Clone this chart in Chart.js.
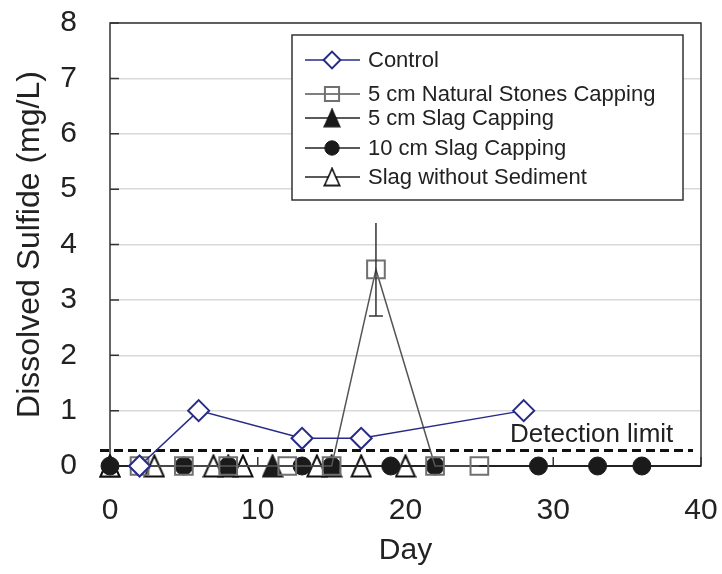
<!DOCTYPE html>
<html>
<head>
<meta charset="utf-8">
<script src="https://cdn.jsdelivr.net/npm/chart.js@4.4.1/dist/chart.umd.min.js"></script>
<style>
html, body { margin: 0; padding: 0; background: #fff; }
#wrap { width: 722px; height: 574px; }
</style>
</head>
<body>
<div id="wrap"><canvas id="chart"></canvas></div>
<script>
// values (day, mg/L)
var controlDays = [2, 6, 13, 17, 28];
var controlVals = [0, 1, 0.5, 0.5, 1];
var stonesDays = [2, 5, 8, 12, 15, 18, 22, 25];
var stonesVals = [0, 0, 0, 0, 0, 3.55, 0, 0];
var stonesErr = [0, 0, 0, 0, 0, 0.84, 0, 0];
var slag5Days = [0, 8, 11, 15];
var slag5Vals = [0, 0, 0, 0];
var slag10Days = [0, 5, 8, 13, 15, 19, 22, 29, 33, 36, 43];
var slag10Vals = [0, 0, 0, 0, 0, 0, 0, 0, 0, 0, 0];
var noSedDays = [0, 3, 7, 9, 14, 17, 20];
var noSedVals = [0, 0, 0, 0, 0, 0, 0];
var yTicks = [0, 1, 2, 3, 4, 5, 6, 7, 8];
var xTicks = [0, 10, 20, 30, 40];
var detectionLimit = 0.28;
var detectionLabel = 'Detection limit';
var detectionLabelAt = [32.6, 0.43];

var FONT = "'Liberation Sans', Arial, sans-serif";
var INK = '#222';

function toPts(days, vals) {
	var arr = [];
	for (var i = 0; i < days.length; i++) {
		arr.push({ x: days[i], y: vals[i] });
	}
	return arr;
}

// excel-like triangle marker (taller than equilateral, box centred)
function triMarker(fill, stroke) {
	var c = document.createElement('canvas');
	c.width = 22;
	c.height = 24;
	var g = c.getContext('2d');
	g.beginPath();
	g.moveTo(11, 1.5);
	g.lineTo(20.5, 22.5);
	g.lineTo(1.5, 22.5);
	g.closePath();
	g.fillStyle = fill;
	g.fill();
	g.lineWidth = 2;
	g.strokeStyle = stroke;
	g.lineJoin = 'miter';
	g.stroke();
	return c;
}
var triFilled = triMarker('#1a1a1a', '#1a1a1a');
var triOpen = triMarker('#fff', '#111');

// frame, inward ticks, detection limit line
var framePlugin = {
	id: 'frame',
	beforeDatasetsDraw: function(chart) {
		var ctx = chart.ctx, a = chart.chartArea;
		var xs = chart.scales.x, ys = chart.scales.y;
		ctx.save();
		ctx.strokeStyle = '#333';
		ctx.lineWidth = 1.5;
		ctx.strokeRect(a.left, a.top, a.right - a.left, a.bottom - a.top);
		ctx.beginPath();
		yTicks.forEach(function(v) {
			var py = ys.getPixelForValue(v);
			ctx.moveTo(a.left, py);
			ctx.lineTo(a.left + 9, py);
		});
		xTicks.forEach(function(v) {
			var px = xs.getPixelForValue(v);
			ctx.moveTo(px, a.bottom);
			ctx.lineTo(px, a.bottom - 9);
		});
		ctx.stroke();

		// detection limit
		var dy = ys.getPixelForValue(detectionLimit);
		ctx.strokeStyle = '#111';
		ctx.lineWidth = 3;
		ctx.setLineDash([9, 5]);
		ctx.beginPath();
		ctx.moveTo(a.left - 10, dy);
		ctx.lineTo(a.right - 8, dy);
		ctx.stroke();
		ctx.setLineDash([]);
		ctx.fillStyle = INK;
		ctx.font = '26px ' + FONT;
		ctx.textAlign = 'center';
		ctx.textBaseline = 'alphabetic';
		ctx.fillText(detectionLabel, xs.getPixelForValue(detectionLabelAt[0]), ys.getPixelForValue(detectionLabelAt[1]));
		ctx.restore();
	}
};

// error bars on the natural stones series
var errPlugin = {
	id: 'errbars',
	afterDatasetsDraw: function(chart) {
		var ctx = chart.ctx;
		var xs = chart.scales.x, ys = chart.scales.y;
		ctx.save();
		ctx.strokeStyle = '#333';
		ctx.lineWidth = 1.5;
		for (var i = 0; i < stonesDays.length; i++) {
			if (!stonesErr[i]) continue;
			var px = xs.getPixelForValue(stonesDays[i]);
			var top = ys.getPixelForValue(stonesVals[i] + stonesErr[i]);
			var bot = ys.getPixelForValue(stonesVals[i] - stonesErr[i]);
			ctx.beginPath();
			ctx.moveTo(px, top);
			ctx.lineTo(px, bot);
			ctx.moveTo(px - 7, bot);
			ctx.lineTo(px + 7, bot);
			ctx.stroke();
		}
		ctx.restore();
	}
};

// boxed legend with line + marker samples
var legendRows = [60, 94, 118, 148, 177];
var legendPlugin = {
	id: 'boxlegend',
	afterDraw: function(chart) {
		var ctx = chart.ctx;
		var bx = 292, by = 35, bw = 391, bh = 165;
		ctx.save();
		ctx.fillStyle = '#fff';
		ctx.fillRect(bx, by, bw, bh);
		ctx.strokeStyle = '#333';
		ctx.lineWidth = 1.5;
		ctx.strokeRect(bx, by, bw, bh);
		var order = [0, 1, 3, 2, 4];
		order.forEach(function(di, row) {
			var ds = chart.data.datasets[di];
			var y = legendRows[row];
			ctx.strokeStyle = ds.borderColor;
			ctx.lineWidth = 1.5;
			ctx.beginPath();
			ctx.moveTo(305, y);
			ctx.lineTo(360, y);
			ctx.stroke();
			if (typeof ds.pointStyle === 'string') {
				ctx.fillStyle = ds.pointBackgroundColor;
				ctx.strokeStyle = ds.pointBorderColor;
				ctx.lineWidth = ds.pointBorderWidth;
				Chart.helpers.drawPoint(ctx, {
					pointStyle: ds.pointStyle,
					radius: ds.pointRadius * 0.8,
					rotation: 0,
					borderWidth: ds.pointBorderWidth
				}, 332, y);
			} else {
				var w = ds.pointStyle.width * 0.8, h = ds.pointStyle.height * 0.8;
				ctx.drawImage(ds.pointStyle, 332 - w / 2, y - h / 2, w, h);
			}
			ctx.fillStyle = INK;
			ctx.font = '22px ' + FONT;
			ctx.textAlign = 'left';
			ctx.textBaseline = 'middle';
			ctx.fillText(ds.label, 368, y + 1);
		});
		ctx.restore();
	}
};

Chart.defaults.font.family = FONT;
Chart.defaults.color = INK;

new Chart(document.getElementById('chart'), {
	type: 'line',
	data: {
		datasets: [{
			label: 'Control',
			data: toPts(controlDays, controlVals),
			borderColor: '#262b86',
			borderWidth: 1.5,
			pointStyle: 'rectRot',
			pointRadius: 10.5,
			pointBackgroundColor: '#fff',
			pointBorderColor: '#262b86',
			pointBorderWidth: 2,
			order: 0,
			clip: false
		}, {
			label: '5 cm Natural Stones Capping',
			data: toPts(stonesDays, stonesVals),
			borderColor: '#555',
			borderWidth: 1.5,
			pointStyle: 'rect',
			pointRadius: 12.5,
			pointBackgroundColor: 'rgba(255,255,255,0)',
			pointBorderColor: '#707070',
			pointBorderWidth: 2,
			order: 1,
			clip: false
		}, {
			label: '10 cm Slag Capping',
			data: toPts(slag10Days, slag10Vals),
			borderColor: '#222',
			borderWidth: 2,
			pointStyle: 'circle',
			pointRadius: 9,
			pointBackgroundColor: '#1a1a1a',
			pointBorderColor: '#1a1a1a',
			pointBorderWidth: 1,
			order: 2,
			clip: { left: false, top: false, right: 0, bottom: false }
		}, {
			label: '5 cm Slag Capping',
			data: toPts(slag5Days, slag5Vals),
			borderColor: '#222',
			borderWidth: 2,
			pointStyle: triFilled,
			pointRadius: 11,
			order: 5,
			clip: false
		}, {
			label: 'Slag without Sediment',
			data: toPts(noSedDays, noSedVals),
			borderColor: '#222',
			borderWidth: 2,
			pointStyle: triOpen,
			pointRadius: 11,
			order: 4,
			clip: false
		}]
	},
	options: {
		responsive: true,
		maintainAspectRatio: false,
		animation: false,
		layout: { padding: { top: 23, right: 21, bottom: 0, left: 0 } },
		plugins: {
			legend: { display: false },
			tooltip: { enabled: false }
		},
		scales: {
			x: {
				type: 'linear',
				min: 0,
				max: 40,
				afterBuildTicks: function(s) { s.ticks = xTicks.map(function(v) { return { value: v }; }); },
				afterFit: function(s) {
					s.height = 108;
					s.paddingLeft = 0;
					s.paddingRight = 0;
				},
				grid: { display: false, drawTicks: false },
				border: { display: false },
				ticks: { font: { size: 30 }, padding: 27, maxRotation: 0 },
				title: { display: true, text: 'Day', font: { size: 30 }, padding: { top: 0, bottom: 5 } }
			},
			y: {
				type: 'linear',
				min: 0,
				max: 8,
				afterBuildTicks: function(s) { s.ticks = yTicks.map(function(v) { return { value: v }; }); },
				afterFit: function(s) {
					s.width = 110;
					s.paddingTop = 0;
					s.paddingBottom = 0;
				},
				grid: { color: '#d9d9d9', lineWidth: 1.5, drawTicks: false },
				border: { display: false },
				ticks: { font: { size: 30 }, padding: 33 },
				title: { display: true, text: 'Dissolved Sulfide (mg/L)', font: { size: 32 }, padding: { top: 11, bottom: 0 } }
			}
		}
	},
	plugins: [framePlugin, errPlugin, legendPlugin]
});
</script>
</body>
</html>
